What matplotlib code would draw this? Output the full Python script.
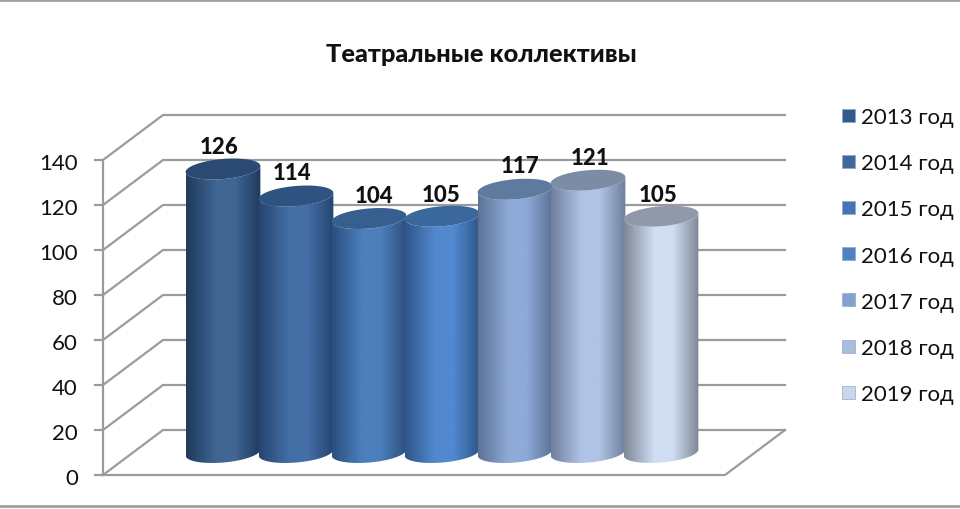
#!/usr/bin/env python3

import numpy as np
import matplotlib
matplotlib.use('Agg')
import matplotlib.pyplot as plt
from matplotlib.colors import LinearSegmentedColormap
from matplotlib.patches import PathPatch, Rectangle
from matplotlib.path import Path

title = 'Театральные коллективы'
years = ['2013 год', '2014 год', '2015 год', '2016 год', '2017 год', '2018 год', '2019 год']
values = [126, 114, 104, 105, 117, 121, 105]
y_ticks = [0, 20, 40, 60, 80, 100, 120, 140]

edge_colors = ['#1f3a5c', '#26456f', '#2b4f7e', '#2e5688', '#5d7295', '#6f7f9c', '#7d8797']
mid_colors = ['#406693', '#436fa6', '#4c7fbb', '#5288d0', '#8eaad8', '#afc3e6', '#d0ddf2']
top_colors = ['#2b4a73', '#2f5380', '#365f90', '#3a689c', '#5f7a9f', '#7d8ba5', '#8f99a9']
legend_colors = ['#335a8a', '#3f689e', '#4574ae', '#4f82c4', '#84a2d0', '#a8bcdc', '#c9d6eb']

# label nudges in pixels, the labels are not quite centred over the cylinders
label_nudge = [-4, -4, 5, -1, 5, 2, -3]
label_lift = [22, 23, 23, 22, 24, 23, 22]

plt.rcParams['font.family'] = ['Lato', 'DejaVu Sans']

# one axes over the whole figure: x counts series, y is the value on the front plane
px_x = 73.0
px_y = 2.25
x0_px = 193.0
y0_px = 476.0

fig = plt.figure(figsize=(9.6, 5.1), dpi=100)
ax = fig.add_axes([0, 0, 1, 1])
ax.axis('off')

depth_x = 60/px_x
depth_y = 45/px_y
left = -90/px_x
right = 532/px_x
tick_len = 8/px_x
grey = '#9b9b9b'
x_min = -x0_px/px_x
x_max = (960-x0_px)/px_x

# frame lines at top and bottom of the picture
ax.plot([x_min, x_max], [(y0_px-1)/px_y]*2, color='#a0a0a0', lw=2, zorder=1)
ax.plot([x_min, x_max], [(y0_px-507)/px_y]*2, color='#a0a0a0', lw=2, zorder=1)

# walls and gridlines
for v in y_ticks:
    ax.plot([left-tick_len, left, left+depth_x, right+depth_x],
            [v, v, v+depth_y, v+depth_y], color=grey, lw=1.6, zorder=2)
    ax.text(left-tick_len-17/px_x, v-3/px_y, str(v), ha='right', va='center', fontsize=16,
            color='#111111', zorder=6)
ax.plot([left, left], [0, y_ticks[-1]], color=grey, lw=1.6, zorder=2)
ax.plot([left, right, right+depth_x], [0, 0, depth_y], color=grey, lw=1.6, zorder=2)


def ellipse(cx, cy, t):
    # tilted ellipse, worked out in pixels and handed back in data units
    a, b, tilt = 37.5, 10.0, np.radians(5)
    dx = a*np.cos(t)*np.cos(tilt) - b*np.sin(t)*np.sin(tilt)
    dy = a*np.cos(t)*np.sin(tilt) + b*np.sin(t)*np.cos(tilt)
    return cx + dx/px_x, cy + dy/px_y


for i, v in enumerate(values):
    cx = i + depth_x/2
    base = depth_y/2

    t_low = np.linspace(np.pi, 2*np.pi, 60)
    xb, yb = ellipse(cx, base, t_low)
    xt, yt = ellipse(cx, base+v, t_low[::-1])
    verts = np.column_stack([np.r_[xb, xt], np.r_[yb, yt]])
    verts = np.vstack([verts, verts[0]])
    body = PathPatch(Path(verts), fc='none', ec='none', transform=ax.transData)
    ax.add_patch(body)

    cmap = LinearSegmentedColormap.from_list(
        'cyl', [(0, edge_colors[i]), (0.4, mid_colors[i]), (0.65, mid_colors[i]), (1, edge_colors[i])])
    im = ax.imshow(np.linspace(0, 1, 128).reshape(1, -1), cmap=cmap, aspect='auto',
                   extent=[verts[:, 0].min(), verts[:, 0].max(), base-15, base+v+15],
                   zorder=3+i*0.01, interpolation='bilinear')
    im.set_clip_path(body)

    xe, ye = ellipse(cx, base+v, np.linspace(0, 2*np.pi, 120))
    ax.fill(xe, ye, color=top_colors[i], lw=0, zorder=3+i*0.01+0.005)

    ax.text(cx + label_nudge[i]/px_x, base+v+label_lift[i]/px_y, str(v), ha='center', va='center',
            fontsize=16, fontweight=900, color='#111111', zorder=6)

# imshow resets the limits
ax.set_xlim(x_min, x_max)
ax.set_ylim((y0_px-510)/px_y, y0_px/px_y)

ax.text((481-x0_px)/px_x, (y0_px-54)/px_y, title, ha='center', va='center',
        fontsize=18.3, fontweight=900, color='#111111')

# legend by hand, it keeps the tall spacing of the original
for i, (name, c) in enumerate(zip(years, legend_colors)):
    py = 116 + i*46.2
    ax.add_patch(Rectangle(((842-x0_px)/px_x, (y0_px-py-6.5)/px_y), 13/px_x, 13/px_y,
                           fc=c, ec='#8fa8c8', lw=0.5, zorder=5))
    ax.text((861-x0_px)/px_x, (y0_px-py-2)/px_y, name, ha='left', va='center',
            fontsize=16, color='#111111', zorder=6)

fig.savefig('out.png', dpi=100)
